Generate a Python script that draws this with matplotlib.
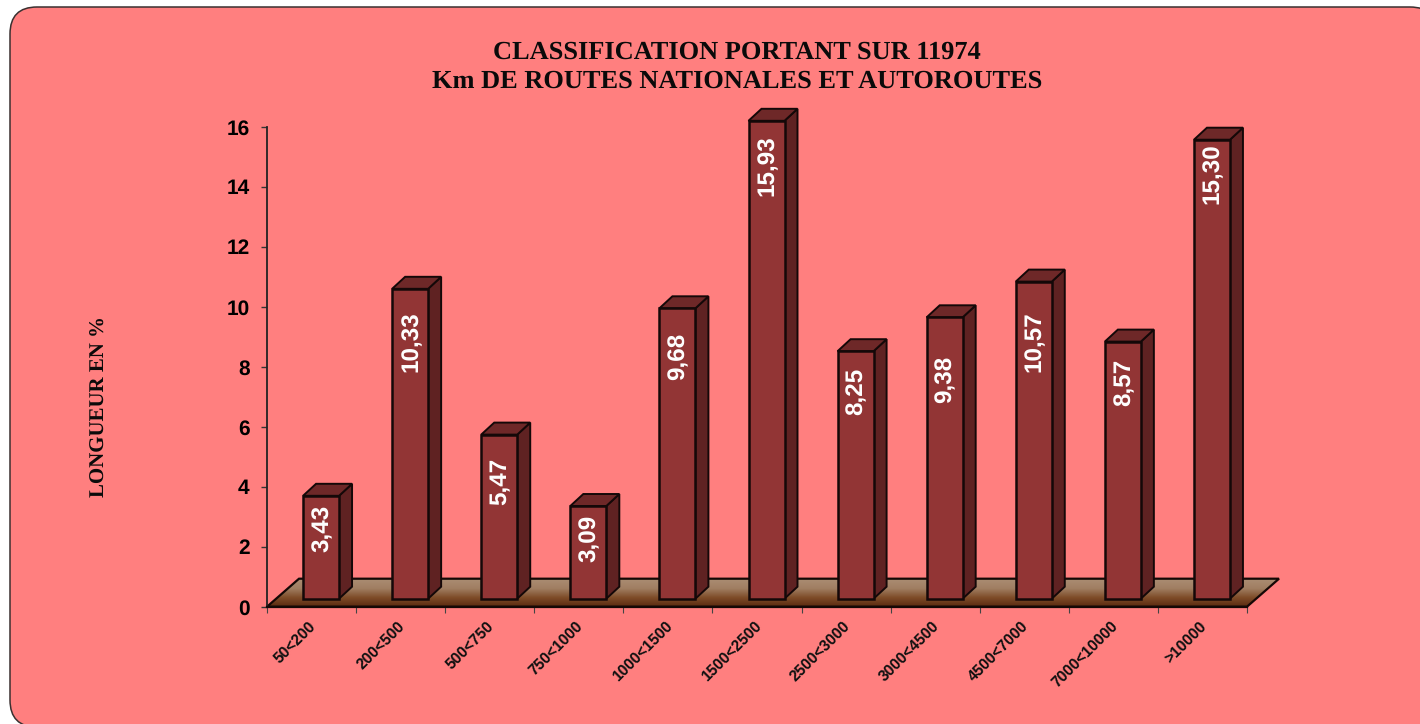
import numpy as np
import matplotlib
matplotlib.use('Agg')
import matplotlib.pyplot as plt
from matplotlib.patches import FancyBboxPatch, Polygon
from matplotlib.colors import LinearSegmentedColormap

plt.rcParams['text.hinting'] = 'no_hinting'

categories = ['50<200', '200<500', '500<750', '750<1000', '1000<1500', '1500<2500',
              '2500<3000', '3000<4500', '4500<7000', '7000<10000', '>10000']
values = [3.43, 10.33, 5.47, 3.09, 9.68, 15.93, 8.25, 9.38, 10.57, 8.57, 15.30]
value_labels = ['3,43', '10,33', '5,47', '3,09', '9,68', '15,93', '8,25', '9,38', '10,57', '8,57', '15,30']
yticks = [0, 2, 4, 6, 8, 10, 12, 14, 16]

W, H = 1420, 724
fig = plt.figure(figsize=(W / 100, H / 100), dpi=100, facecolor='white')

# background card, runs off the right side and the bottom
bg = fig.add_axes([0, 0, 1, 1])
bg.set_xlim(0, W)
bg.set_ylim(H, 0)
bg.axis('off')
card = FancyBboxPatch((10, 7), 1427, 720, boxstyle='round,pad=0,rounding_size=27',
                      fc='#FF7F7F', ec='#3a3030', lw=1.1)
bg.add_patch(card)

# plot area: x 267-1247 px, y 606.7-126.7 px
ax = fig.add_axes([267 / W, (H - 606.7) / H, 980 / W, 480 / H])
ax.patch.set_alpha(0)
ax.set_xlim(0, len(categories))
ax.set_ylim(0, 16)
px_x = len(categories) / 980
px_y = 16 / 480

# floor
floor_dx = 32 * px_x
floor_dy = 28 * px_y
floor_pts = [(0, 0), (len(categories), 0), (len(categories) + floor_dx, floor_dy), (floor_dx, floor_dy)]
cmap = LinearSegmentedColormap.from_list('floor', ['#AA8C72', '#A07E62', '#7E4C28', '#5A2A10'])
im = ax.imshow(np.linspace(0, 1, 64).reshape(-1, 1), cmap=cmap, aspect='auto',
               extent=(0, len(categories) + floor_dx, 0, floor_dy), origin='upper', zorder=1)
floor = Polygon(floor_pts, closed=True, fc='none', ec='#150805', lw=1.6, clip_on=False, zorder=2, joinstyle='miter')
ax.add_patch(floor)
im.set_clip_box(fig.bbox)
im.set_clip_path(floor)
ax.set_xlim(0, len(categories))
ax.set_ylim(0, 16)

# bars
bar_w = 36 * px_x
shift = 9.5 * px_x
base = 8 * px_y
dep_x = 13 * px_x
dep_y = 12 * px_y
edge = '#140808'
label_drop = [33, 53, 47, 32, 48, 45, 40, 62, 60, 41, 34]
for i, v in enumerate(values):
    x0 = i + 0.5 - bar_w / 2 + shift
    x1 = x0 + bar_w
    y0 = base
    y1 = base + v
    ax.add_patch(Polygon([(x1, y0), (x1 + dep_x, y0 + dep_y), (x1 + dep_x, y1 + dep_y), (x1, y1)],
                         fc='#5F2222', ec=edge, lw=1.4, clip_on=False, zorder=3))
    ax.add_patch(Polygon([(x0, y1), (x1, y1), (x1 + dep_x, y1 + dep_y), (x0 + dep_x, y1 + dep_y)],
                         fc='#6E2828', ec=edge, lw=1.4, clip_on=False, zorder=3))
    ax.add_patch(Polygon([(x0, y0), (x1, y0), (x1, y1), (x0, y1)],
                         fc='#923535', ec=edge, lw=1.8, clip_on=False, zorder=4))
    ax.text((x0 + x1) / 2 + 1 * px_x, y1 - label_drop[i] * px_y, value_labels[i], rotation=90, color='white',
            family='Liberation Sans', fontweight='bold', fontsize=17.5, ha='center', va='center', zorder=5)

for s in ['top', 'right']:
    ax.spines[s].set_visible(False)
ax.spines['left'].set_linewidth(1.3)
ax.spines['left'].set_color('#222222')
ax.spines['bottom'].set_linewidth(1.6)
ax.spines['bottom'].set_color('#150805')

ax.set_yticks(yticks)
ax.set_yticklabels([str(t) for t in yticks], family='Liberation Sans', fontweight='bold', fontsize=15)
ax.tick_params(axis='y', length=4.5, width=1, pad=8, color='#333333')
ax.set_xticks(range(len(categories) + 1))
ax.set_xticklabels([])
ax.tick_params(axis='x', length=4, width=0.8, color='#444444')

for i, c in enumerate(categories):
    ax.annotate(c, xy=(i + 0.5, 0), xytext=(2, -17), textcoords='offset pixels', rotation=45,
                rotation_mode='anchor', ha='right', va='center', family='Liberation Sans',
                fontweight='bold', fontsize=11.2, color='#111111', annotation_clip=False)

fig.text(737 / W, 1 - 67 / H, 'CLASSIFICATION PORTANT SUR 11974\nKm DE ROUTES NATIONALES ET AUTOROUTES',
         family='Liberation Serif', fontweight='bold', fontsize=19, ha='center', va='center',
         linespacing=1.33, color='#0a0a0a')
fig.text(99.5 / W, 1 - 407 / H, 'LONGUEUR EN %', rotation=90, family='Liberation Serif', fontweight='bold',
         fontsize=15, ha='center', va='center', color='#0a0a0a')

fig.savefig('out.png', dpi=100, facecolor='white')
